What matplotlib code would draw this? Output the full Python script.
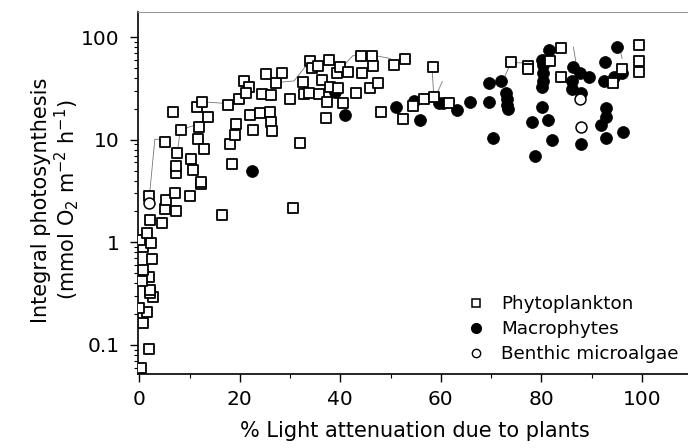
import numpy as np
import matplotlib
matplotlib.use('Agg')
import matplotlib.pyplot as plt
from matplotlib.ticker import FixedLocator, FixedFormatter, MultipleLocator, LogLocator, NullFormatter
from matplotlib.lines import Line2D

# Phytoplankton (open squares)
phyto_x = [0.3, 2.0, 0.8, 1.5, 0.0, 2.8, 2.1, 2.1, 2.0, 0.5, 0.8, 2.5, 0.7, 2.3, 0.1, 1.6, 2.1, 2.0,
           4.6, 5.1, 5.4, 7.3, 7.1, 10.1, 12.2, 12.3, 16.4, 5.2, 6.75, 7.4, 7.4, 7.6, 8.4, 10.2, 10.7,
           11.7, 12.9, 11.9, 11.5, 12.4, 13.7, 17.7, 18.0, 18.5, 19.0, 19.3, 19.9,
           20.8, 21.9, 21.3, 22.0, 22.6, 24.0, 24.5, 25.2, 26.1, 26.2, 26.3, 26.5, 27.2, 28.5, 29.9,
           30.5, 31.9, 32.6, 32.7, 33.8, 34.0, 34.4, 35.6, 35.8, 36.4, 37.1, 37.3, 37.7, 38.0, 39.3,
           39.5, 39.9,
           40.5, 41.5, 43.2, 44.2, 44.3, 46.0, 46.4, 46.6, 47.6, 48.2, 50.6, 52.5, 52.8, 54.4, 56.6,
           58.5, 58.6, 61.6,
           74.0, 77.3, 77.3, 81.8, 83.9, 83.9, 94.3, 96.0, 99.5, 99.5, 99.5]
phyto_y = [0.06, 0.092, 0.164, 0.21, 0.23, 0.295, 0.32, 0.345, 0.46, 0.42, 0.54, 0.68, 0.9, 0.98, 1.05, 1.24, 1.65, 2.83,
           1.55, 2.1, 2.6, 2.0, 3.0, 2.83, 3.7, 3.85, 1.83, 9.5, 18.7, 4.7, 5.5, 7.4, 12.5, 6.5, 5.1,
           10.1, 8.1, 13.2, 20.7, 23.5, 16.8, 21.9, 9.1, 5.8, 11.1, 14.3, 24.8,
           37.7, 33.0, 28.8, 17.5, 12.5, 18.1, 28.0, 43.5, 18.8, 27.4, 15.0, 12.3, 36.0, 44.6, 24.8,
           2.15, 9.4, 36.9, 28.0, 28.8, 58.7, 49.8, 52.5, 28.0, 38.3, 16.4, 23.5, 60.0, 33.0, 45.0,
           31.8, 51.7,
           22.7, 46.0, 28.8, 65.7, 44.6, 31.8, 65.7, 52.5, 36.0, 18.8, 53.7, 15.8, 61.4, 21.5, 24.8,
           51.7, 26.0, 23.0,
           57.0, 52.5, 48.8, 58.0, 78.0, 40.7, 35.6, 49.0, 84.0, 59.0, 46.0]

# Macrophytes (filled circles)
macro_x = [22.5, 39.0, 40.9, 51.1, 54.6, 55.9, 59.6, 60.4, 63.2, 65.8, 69.7, 69.7, 70.4, 72.0, 73.0,
           73.2, 73.2, 73.4, 78.1, 78.8, 80.1, 80.1, 80.3, 80.3, 80.3, 80.2, 81.6, 81.4, 82.2, 86.4,
           87.8, 89.5, 86.2, 86.2, 87.9, 87.9, 92.5, 92.6, 94.5, 95.0, 96.1, 92.8, 92.8, 91.9, 92.8, 96.3]
macro_y = [5.0, 29.0, 17.5, 20.7, 23.9, 15.6, 22.7, 23.0, 19.5, 23.5, 36.0, 23.5, 10.5, 37.7, 28.4,
           25.0, 22.0, 20.0, 15.0, 7.0, 21.0, 60.0, 53.7, 44.6, 37.0, 33.0, 75.0, 15.6, 10.0, 51.0,
           45.0, 41.0, 37.0, 31.0, 28.4, 9.1, 37.0, 57.0, 41.0, 81.0, 44.6, 20.3, 16.8, 13.9, 10.3, 11.8]

# Benthic microalgae (open circles)
benth_x = [2.0, 87.7, 87.9]
benth_y = [2.4, 24.8, 13.2]

# thin connecting lines between related measurements
links = [
    ([2.1, 3.1, 5.1], [3.1, 10.1, 10.1]),
    ([7.6, 8.1, 9.7, 11.4], [7.6, 12.0, 13.2, 14.0]),
    ([12.4, 17.7, 19.9, 21.0], [23.5, 22.5, 24.8, 35.0]),
    ([27.2, 30.8, 33.5], [36.0, 37.5, 55.0]),
    ([40.2, 42.5, 47.0, 50.0], [50.0, 66.0, 66.0, 62.0]),
    ([58.3, 58.6], [48.0, 27.0]),
    ([60.3, 59.1], [37.0, 27.0]),
    ([73.8, 72.6], [54.0, 40.0]),
    ([74.0, 77.3], [56.5, 56.0]),
    ([86.4, 87.0], [80.0, 53.0]),
    ([95.6, 96.1], [78.0, 62.0]),
]

fig = plt.figure(figsize=(6.88, 4.48), dpi=100)
ax = fig.add_axes([137.5 / 688, 74 / 448, (692 - 137.5) / 688, (374 - 12) / 448])

for lx, ly in links:
    ax.plot(lx, ly, color='#777777', lw=0.6, zorder=1)

ax.scatter(macro_x, macro_y, s=74, marker='o', facecolor='black', edgecolor='black', linewidth=0.5, zorder=2)
ax.scatter(phyto_x, phyto_y, s=50, marker='s', facecolor='white', edgecolor='black', linewidth=1.3, zorder=3)
ax.scatter(benth_x, benth_y, s=62, marker='o', facecolor='white', edgecolor='black', linewidth=1.1, zorder=4)

ax.set_yscale('log')
ax.set_xlim(-0.35, 110)
ax.set_ylim(0.052, 176)

ax.yaxis.set_major_locator(FixedLocator([0.1, 1, 10, 100]))
ax.yaxis.set_major_formatter(FixedFormatter(['0.1', '1', '10', '100']))
ax.yaxis.set_minor_locator(LogLocator(base=10, subs=np.arange(2, 10)))
ax.yaxis.set_minor_formatter(NullFormatter())
ax.xaxis.set_major_locator(FixedLocator([0, 20, 40, 60, 80, 100]))
ax.xaxis.set_minor_locator(MultipleLocator(10))

ax.tick_params(which='major', direction='out', length=5.5, width=1.0, labelsize=14.5, pad=6)
ax.tick_params(which='minor', direction='out', length=3, width=0.8)
ax.tick_params(axis='y', which='major', pad=7.5)

for side in ['left', 'bottom']:
    ax.spines[side].set_linewidth(1.2)
ax.spines['top'].set_color('#999999')
ax.spines['top'].set_linewidth(0.8)
ax.spines['right'].set_visible(False)

ax.set_xlabel('% Light attenuation due to plants', fontsize=15)
ax.set_ylabel('Integral photosynthesis\n(mmol O$_2$ m$^{-2}$ h$^{-1}$)', fontsize=15, linespacing=1.05)
ax.xaxis.set_label_coords(415 / 688, (448 - 421) / 448, transform=fig.transFigure)
ax.yaxis.set_label_coords(81 / 688, (448 - 200) / 448, transform=fig.transFigure)

handles = [
    Line2D([], [], ls='none', marker='s', ms=5.5, mfc='white', mec='black', mew=1.1),
    Line2D([], [], ls='none', marker='o', ms=7, mfc='black', mec='black'),
    Line2D([], [], ls='none', marker='o', ms=6, mfc='white', mec='black', mew=1.0),
]
ax.legend(handles, ['Phytoplankton', 'Macrophytes', 'Benthic microalgae'],
          loc='lower left', bbox_to_anchor=(467 / 688, (448 - 363) / 448),
          bbox_transform=fig.transFigure, frameon=False, fontsize=13.2,
          handlelength=1.0, handletextpad=0.85, labelspacing=0.38, borderpad=0, borderaxespad=0)

fig.savefig('out.png', dpi=100)
